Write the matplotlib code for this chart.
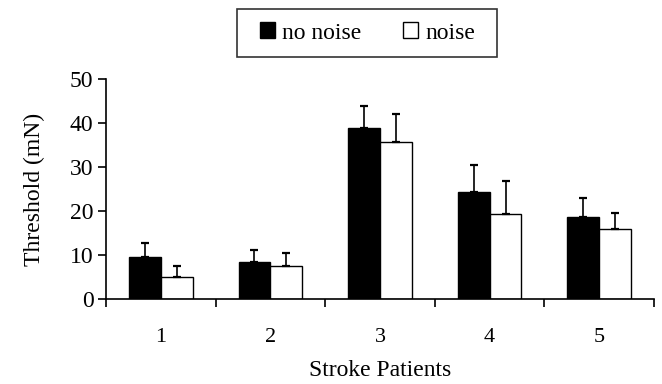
import numpy as np
import matplotlib.pyplot as plt
from matplotlib.patches import Patch
from matplotlib.path import Path

plt.rcParams['font.family'] = ['Liberation Serif', 'DejaVu Serif']

patients = ["1", "2", "3", "4", "5"]
no_noise = [9.5, 8.4, 39.0, 24.3, 18.6]
no_noise_err = [3.4, 2.8, 4.9, 6.2, 4.4]
noise = [5.1, 7.6, 35.8, 19.3, 15.9]
noise_err = [2.5, 2.9, 6.4, 7.6, 3.7]

x = np.arange(len(patients))
w = 0.29


def wide_box(x0, y0, width, height, mutation_size):
    # square frame with some extra room left and right only
    dx = 0.4 * mutation_size
    x0, x1 = x0 - dx, x0 + width + dx
    y1 = y0 + height
    return Path([(x0, y0), (x1, y0), (x1, y1), (x0, y1), (x0, y0)],
                closed=True)


fig = plt.figure(figsize=(6.62, 3.84), dpi=100)
ax = fig.add_axes([0.160, 0.2206, 0.828, 0.5729])

err_kw = dict(ecolor="black", elinewidth=1.2, capsize=3, capthick=1.6)
ax.bar(x - w / 2, no_noise, w, color="black", edgecolor="black", linewidth=1,
       yerr=[np.zeros(5), no_noise_err], error_kw=err_kw)
ax.bar(x + w / 2, noise, w, color="white", edgecolor="black", linewidth=1,
       yerr=[np.zeros(5), noise_err], error_kw=err_kw)

ax.set_xlim(-0.5, len(patients) - 0.5)
ax.set_ylim(0, 50)
ax.set_yticks(range(0, 51, 10))
ax.set_xticks(x)
ax.set_xticklabels(patients)
ax.set_xticks(np.arange(-0.5, len(patients)), minor=True)
ax.tick_params(axis="x", which="major", length=0, pad=21, labelsize=16)
ax.tick_params(axis="x", which="minor", length=6, width=1.2, direction="out")
ax.tick_params(axis="y", length=6, width=1.2, direction="out", labelsize=17, pad=3)

for s in ["top", "right"]:
    ax.spines[s].set_visible(False)
for s in ["left", "bottom"]:
    ax.spines[s].set_linewidth(1.2)

ax.set_ylabel("Threshold (mN)", fontsize=17, labelpad=18)
ax.set_xlabel("Stroke Patients", fontsize=17, labelpad=9)

handles = [Patch(facecolor="black", edgecolor="black"),
           Patch(facecolor="white", edgecolor="black")]
leg = fig.legend(handles, ["no noise", "noise"], loc="center",
                 bbox_to_anchor=(0.555, 0.914), ncol=2, fontsize=17,
                 frameon=True, fancybox=False, edgecolor="black",
                 handlelength=0.65, handleheight=0.65, handletextpad=0.3,
                 columnspacing=1.75, borderpad=0.55)
leg.get_frame().set_linewidth(1.2)
leg.get_frame().set_boxstyle(wide_box)

fig.savefig("out.png", dpi=100)
